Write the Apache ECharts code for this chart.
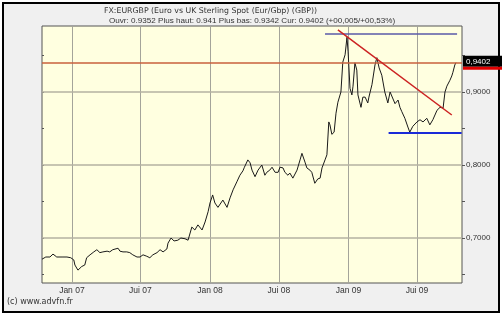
<!DOCTYPE html>
<html>
<head>
<meta charset="utf-8">
<script src="https://cdn.jsdelivr.net/npm/echarts@6/dist/echarts.min.js"></script>
<style>html,body{margin:0;padding:0;background:#fff;}#c{width:502px;height:316px;}</style>
</head>
<body>
<div id="c"></div>
<script>
const titleLine1 = 'FX:EURGBP (Euro vs UK Sterling Spot (Eur/Gbp) (GBP))';
const titleLine2 = 'Ouvr: 0.9352 Plus haut: 0.941 Plus bas: 0.9342 Cur: 0.9402 (+00,005/+00,53%)';
const copyrightText = '(c) www.advfn.fr';

const dates = [
'2006-10-14','2006-10-24','2006-11-04','2006-11-12','2006-11-22','2006-12-06','2006-12-19','2006-12-29',
'2007-01-06','2007-01-09','2007-01-17','2007-01-22','2007-01-27','2007-02-04','2007-02-09','2007-02-18','2007-02-28','2007-03-08','2007-03-16','2007-03-24','2007-04-04','2007-04-11','2007-04-19','2007-05-03','2007-05-08','2007-05-16','2007-05-26','2007-06-03','2007-06-11','2007-06-22','2007-06-30','2007-07-08','2007-07-18','2007-07-26','2007-08-03','2007-08-14','2007-08-22','2007-08-30','2007-09-09','2007-09-12','2007-09-20','2007-09-28','2007-10-08','2007-10-16','2007-10-27','2007-11-04','2007-11-14','2007-11-22','2007-11-30','2007-12-11','2007-12-19','2007-12-27',
'2008-01-01','2008-01-08','2008-01-14','2008-01-22','2008-01-27','2008-02-04','2008-02-15','2008-02-23','2008-03-02','2008-03-12','2008-03-20','2008-03-28','2008-04-01','2008-04-10','2008-04-16','2008-04-21','2008-04-29','2008-05-07','2008-05-17','2008-05-25','2008-05-30','2008-06-07','2008-06-13','2008-06-21','2008-06-29','2008-07-04','2008-07-12','2008-07-17','2008-07-25','2008-07-30','2008-08-07','2008-08-18','2008-08-26','2008-08-31','2008-09-08','2008-09-13','2008-09-21','2008-09-26','2008-10-04','2008-10-12','2008-10-18','2008-10-23','2008-10-31','2008-11-05','2008-11-10','2008-11-13','2008-11-18','2008-11-24','2008-11-29','2008-12-04','2008-12-12','2008-12-17','2008-12-23','2008-12-28','2008-12-31',
'2009-01-05','2009-01-10','2009-01-13','2009-01-18','2009-01-23','2009-01-26','2009-02-03','2009-02-08','2009-02-14','2009-02-21','2009-02-24','2009-03-04','2009-03-12','2009-03-17','2009-03-23','2009-03-30','2009-04-07','2009-04-15','2009-04-21','2009-04-26','2009-05-04','2009-05-12','2009-05-17','2009-05-22','2009-05-30','2009-06-07','2009-06-12','2009-06-20','2009-07-01','2009-07-09','2009-07-17','2009-07-27','2009-08-04','2009-08-12','2009-08-23','2009-08-31','2009-09-08','2009-09-13','2009-09-18','2009-09-26','2009-10-01','2009-10-04','2009-10-09','2009-10-12'
];
const prices = [
0.671,0.674,0.674,0.678,0.674,0.674,0.674,0.673,
0.670,0.663,0.656,0.658,0.661,0.663,0.673,0.677,0.681,0.684,0.680,0.681,0.682,0.681,0.684,0.686,0.682,0.681,0.681,0.680,0.677,0.674,0.674,0.677,0.675,0.673,0.677,0.680,0.684,0.681,0.685,0.693,0.700,0.696,0.697,0.700,0.699,0.697,0.715,0.711,0.718,0.711,0.722,0.736,
0.748,0.759,0.748,0.742,0.744,0.752,0.742,0.755,0.766,0.777,0.786,0.792,0.797,0.807,0.803,0.793,0.784,0.793,0.800,0.786,0.790,0.793,0.797,0.790,0.790,0.797,0.796,0.790,0.786,0.789,0.782,0.793,0.807,0.816,0.804,0.796,0.793,0.790,0.775,0.781,0.782,0.796,0.807,0.814,0.859,0.855,0.842,0.845,0.871,0.886,0.900,0.941,0.951,0.975,0.955,
0.905,0.896,0.908,0.940,0.930,0.896,0.879,0.893,0.893,0.885,0.893,0.910,0.937,0.947,0.933,0.923,0.900,0.885,0.900,0.899,0.884,0.889,0.879,0.873,0.864,0.852,0.845,0.853,0.859,0.862,0.859,0.864,0.855,0.862,0.875,0.879,0.878,0.900,0.908,0.916,0.922,0.927,0.937,0.9402
];

const xMin = '2006-10-14';
const xMax = '2009-10-28';
const yMin = 0.6384;
const yMax = 0.9904;
const xTickDates = ['2007-01-01','2007-07-01','2008-01-01','2008-07-01','2009-01-01','2009-07-01'];
const xTickLabels = ['Jan 07','Jui 07','Jan 08','Jui 08','Jan 09','Jui 09'];
const yGridValues = [0.7, 0.8, 0.9];
const yTickValues = [0.65, 0.7, 0.75, 0.8, 0.85, 0.9, 0.95];
const lastPrice = 0.9402;
const resistanceLevel = 0.9795;
const resistanceRange = ['2008-10-31', '2009-10-15'];
const supportLevel = 0.8438;
const supportRange = ['2009-04-17', '2009-10-27'];
const trendStart = ['2008-12-04', 0.985];
const trendEnd = ['2009-10-01', 0.8685];

const FONT = 'Liberation Sans';
const fmt = v => v.toFixed(4).replace('.', ',');
const priceData = dates.map((d, i) => [d, prices[i]]);

const chart = echarts.init(document.getElementById('c'), null, {renderer: 'canvas'});
const option = {
  animation: false,
  backgroundColor: '#ffffff',
  textStyle: {fontFamily: FONT},
  graphic: [
    {type: 'rect', z: -10, shape: {x: 3, y: 3, width: 496, height: 309}, style: {fill: '#f0f0f0', stroke: '#000', lineWidth: 2}},
    {type: 'text', left: 104, top: 7, style: {text: titleLine1, fill: '#333', font: '7.8px "DejaVu Sans"'}},
    {type: 'text', left: 109, top: 17, style: {text: titleLine2, fill: '#333', font: '8.1px "Liberation Sans"'}},
    {type: 'text', left: 7, top: 298, style: {text: copyrightText, fill: '#333', font: '8px "DejaVu Sans"'}}
  ],
  grid: {left: 42, right: 40, top: 26, bottom: 33, show: true, backgroundColor: '#ffffe0', borderColor: '#555', borderWidth: 1, containLabel: false},
  xAxis: {
    type: 'time', min: xMin, max: xMax,
    axisLabel: {show: false}, axisTick: {show: false}, axisLine: {show: false}, splitLine: {show: false}
  },
  yAxis: [
    {
      type: 'value', position: 'right', min: yMin, max: yMax, scale: true,
      axisLine: {show: false},
      axisTick: {show: true, inside: false, length: 3, lineStyle: {color: '#555'}, customValues: yTickValues},
      axisLabel: {show: true, margin: 4, fontSize: 8, color: '#333', fontFamily: FONT, customValues: yGridValues, formatter: fmt},
      splitLine: {show: false}
    },
    {
      type: 'value', position: 'left', min: yMin, max: yMax, scale: true,
      axisLine: {show: false},
      axisTick: {show: true, inside: true, length: 2, lineStyle: {color: '#555'}, customValues: yTickValues},
      axisLabel: {show: false},
      splitLine: {show: false}
    }
  ],
  series: [
    {
      name: 'grid', type: 'line', data: priceData, z: 1, silent: true,
      showSymbol: false, symbol: 'none',
      lineStyle: {opacity: 0, width: 0},
      markLine: {
        silent: true, symbol: 'none', z: 1, animation: false,
        data: xTickDates.map((d, i) => ({
          xAxis: d,
          lineStyle: {color: '#a4a49a', width: 1, type: 'solid'},
          label: {show: true, position: 'start', distance: 3, formatter: xTickLabels[i], fontSize: 8.5, color: '#333', fontFamily: FONT}
        }))
      }
    },
    {
      name: 'hgrid', type: 'line', data: priceData, z: 1, silent: true,
      showSymbol: false, symbol: 'none',
      lineStyle: {opacity: 0, width: 0},
      markLine: {
        silent: true, symbol: 'none', z: 1, animation: false,
        lineStyle: {color: '#b4b2a2', width: 1.5, type: 'solid', opacity: 1},
        label: {show: false},
        data: yGridValues.map(v => ({yAxis: v}))
      }
    },
    {
      name: 'EURGBP', type: 'line', z: 3,
      data: priceData,
      showSymbol: false, symbol: 'none',
      lineStyle: {color: '#1a1a1a', width: 1},
      markLine: {
        silent: true, symbol: 'none', z: 4, animation: false,
        data: [
          {yAxis: lastPrice, lineStyle: {color: '#c8603c', width: 1.5, type: 'solid'},
           label: {show: true, position: 'end', distance: 1, formatter: '{a|' + fmt(lastPrice) + '}\n{b|}',
             rich: {
               a: {backgroundColor: '#000', color: '#fff', fontSize: 8, fontFamily: FONT, padding: [2, 3, 1, 3], width: 34, height: 8},
               b: {backgroundColor: '#e00000', width: 40, height: 3}
             }}},
          [{coord: [resistanceRange[0], resistanceLevel]}, {coord: [resistanceRange[1], resistanceLevel], lineStyle: {color: '#5a5aa8', width: 1.5, type: 'solid'}, label: {show: false}}],
          [{coord: [supportRange[0], supportLevel]}, {coord: [supportRange[1], supportLevel], lineStyle: {color: '#1a2ad8', width: 2, type: 'solid'}, label: {show: false}}],
          [{coord: trendStart}, {coord: trendEnd, lineStyle: {color: '#cc2222', width: 1.5, type: 'solid'}, label: {show: false}}]
        ]
      }
    }
  ]
};
chart.setOption(option);
</script>
</body>
</html>
